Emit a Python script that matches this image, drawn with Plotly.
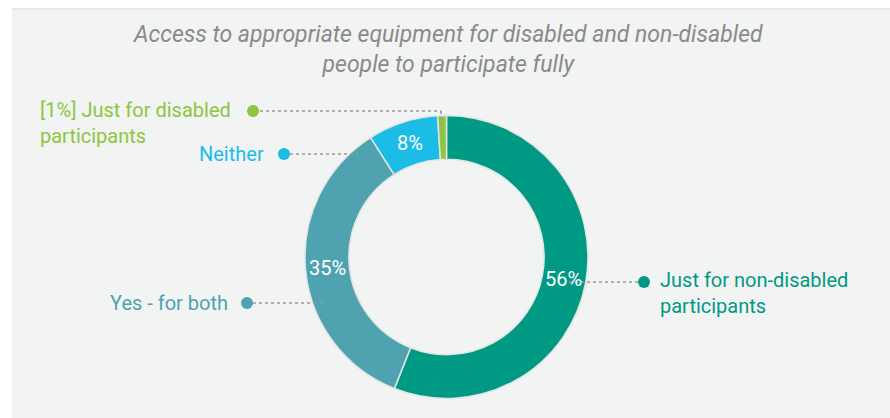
import math
import plotly.graph_objects as go

# Survey answers
categories = ["Just for non-disabled participants", "Yes - for both", "Neither", "Just for disabled participants"]
values = [56, 35, 8, 1]
colors = ["#009a84", "#4fa3b0", "#1bbde6", "#8dc63f"]

W, H = 890, 418


def px(x):
    return x / W


def py(y):
    return 1 - y / H


fig = go.Figure()

# donut, centre (446.5, 257), outer radius 141.5 px
cx, cy, r = 446.5, 257, 141.5
hole = 0.69
fig.add_trace(go.Pie(
    labels=categories,
    values=values,
    textinfo="none",
    marker=dict(colors=colors, line=dict(color="#e2e6e3", width=1.5)),
    hole=hole,
    sort=False,
    direction="clockwise",
    rotation=0,
    showlegend=False,
    hoverinfo="label+percent",
    domain=dict(x=[px(cx - r), px(cx + r)], y=[py(cy + r), py(cy - r)]),
))

shapes = [
    # grey panel
    dict(type="rect", xref="paper", yref="paper", x0=px(12), x1=px(890), y0=0, y1=py(8),
         fillcolor="#f2f3f3", line=dict(width=0), layer="below"),
    dict(type="line", xref="paper", yref="paper", x0=px(12), x1=px(890), y0=py(9), y1=py(9),
         line=dict(color="#e6e8e8", width=2), layer="below"),
]

annotations = [
    dict(text="<i>Access to appropriate equipment for disabled and non-disabled<br>people to participate fully</i>",
         xref="paper", yref="paper", x=px(448), y=py(50), xanchor="center", yanchor="middle",
         showarrow=False, font=dict(family="Roboto", size=23, color="#8a8a8a"), align="center"),
]

# percentage labels at the middle of each ring segment
total = sum(values)
mid_r = r * (1 + hole) / 2
cum = 0
for v in values:
    ang = 2 * math.pi * (cum + v / 2) / total
    cum += v
    if v < 5:
        continue
    annotations.append(dict(
        text=f"{v}%", xref="paper", yref="paper",
        x=px(cx + mid_r * math.sin(ang)), y=py(cy - mid_r * math.cos(ang)),
        xanchor="center", yanchor="middle", showarrow=False,
        font=dict(family="Roboto", size=20, color="white"),
    ))

dot_line = dict(color="#9a9a9a", width=1.5, dash="dot")

# callouts: (label html, colour, label x, label y, anchor, dot x, dot y, line path)
callouts = [
    ("[1%] Just for disabled<br>participants", colors[3], 38, 123, "left", 253, 111,
     [(260, 111), (441, 111), (441, 131)]),
    ("Neither", colors[2], 266, 154, "right", 284, 154,
     [(290, 154), (358, 154)]),
    ("Yes - for both", colors[1], 230, 303, "right", 247, 303,
     [(253, 303), (323, 303)]),
    ("Just for non-disabled<br>participants", colors[0], 658, 293, "left", 644, 282,
     [(569, 282), (638, 282)]),
]

for text, col, lx, ly, anchor, dx, dy, path in callouts:
    annotations.append(dict(
        text=text, xref="paper", yref="paper", x=px(lx), y=py(ly),
        xanchor=anchor, yanchor="middle", align="left", showarrow=False,
        font=dict(family="Roboto", size=20, color=col),
    ))
    shapes.append(dict(type="circle", xref="paper", yref="paper",
                       x0=px(dx - 6), x1=px(dx + 6), y0=py(dy + 6), y1=py(dy - 6),
                       fillcolor=col, line=dict(width=0)))
    for (x0, y0), (x1, y1) in zip(path[:-1], path[1:]):
        shapes.append(dict(type="line", xref="paper", yref="paper",
                           x0=px(x0), y0=py(y0), x1=px(x1), y1=py(y1), line=dot_line))

fig.update_layout(
    width=W, height=H,
    margin=dict(l=0, r=0, t=0, b=0),
    paper_bgcolor="white",
    plot_bgcolor="white",
    shapes=shapes,
    annotations=annotations,
)

fig.write_html("out.html")
